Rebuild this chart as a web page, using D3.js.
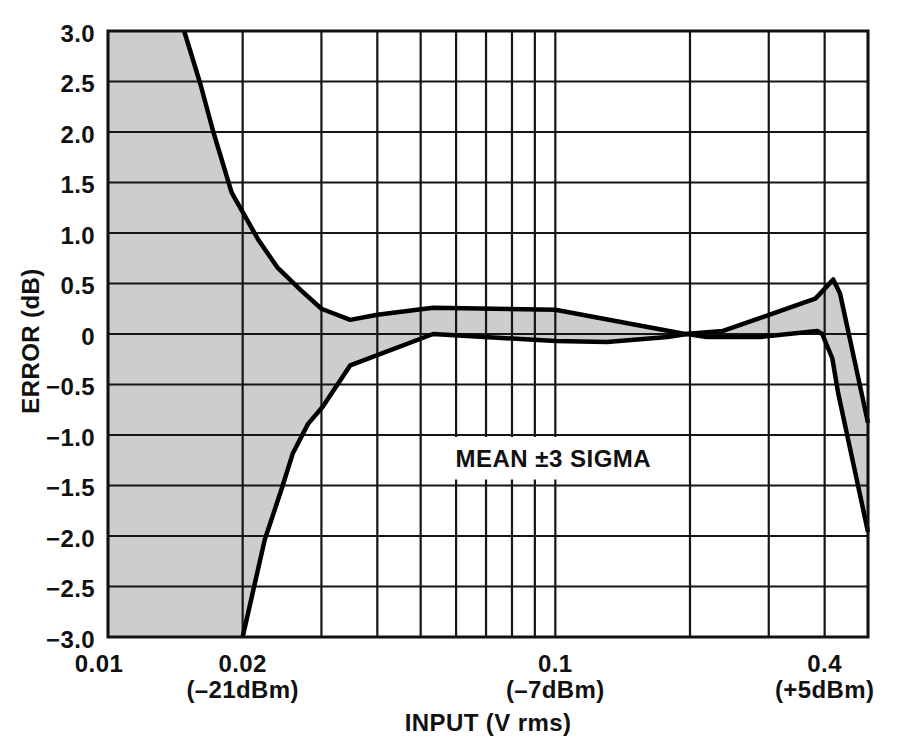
<!DOCTYPE html>
<html>
<head>
<meta charset="utf-8">
<script src="https://cdn.jsdelivr.net/npm/d3@7"></script>
<style>
body { margin: 0; background: #fff; }
svg text { font-family: "Liberation Sans", Arial, Helvetica, sans-serif; font-weight: bold; fill: #111; }
</style>
</head>
<body>
<div id="chart"></div>
<script>
// Error (dB) vs input (V rms), mean +/- 3 sigma band

// upper curve (mean + 3 sigma)
var upperX = [0.0148, 0.0161, 0.0172, 0.0189, 0.0217, 0.0239, 0.0269, 0.030, 0.0348, 0.040, 0.0533, 0.100, 0.195, 0.237, 0.381, 0.389, 0.418, 0.433, 0.500];
var upperY = [3.0, 2.47, 2.0, 1.40, 0.93, 0.66, 0.44, 0.25, 0.14, 0.19, 0.26, 0.24, 0.0, 0.03, 0.35, 0.39, 0.54, 0.40, -0.88];

// lower curve (mean - 3 sigma)
var lowerX = [0.020, 0.0224, 0.0245, 0.0259, 0.028, 0.0302, 0.0348, 0.040, 0.0533, 0.100, 0.1305, 0.178, 0.197, 0.218, 0.287, 0.385, 0.395, 0.416, 0.429, 0.500];
var lowerY = [-3.0, -2.04, -1.52, -1.18, -0.89, -0.72, -0.31, -0.21, 0.0, -0.07, -0.08, -0.03, 0.0, -0.03, -0.03, 0.03, 0.0, -0.24, -0.59, -1.96];

// grid and labels
var gridX = [0.01, 0.02, 0.03, 0.04, 0.05, 0.06, 0.07, 0.08, 0.09, 0.1, 0.2, 0.3, 0.4, 0.5];
var yTicks = [-3.0, -2.5, -2.0, -1.5, -1.0, -0.5, 0, 0.5, 1.0, 1.5, 2.0, 2.5, 3.0];
var xLabelValues = [0.01, 0.02, 0.1, 0.4];
var xLabelTop = ["0.01", "0.02", "0.1", "0.4"];
var xLabelBottom = ["", "(\u201321dBm)", "(\u20137dBm)", "(+5dBm)"];

var width = 900, height = 754;

var svg = d3.select('#chart').append('svg')
    .attr('width', width)
    .attr('height', height);

var x = d3.scaleLog()
    .domain([0.01, 0.5])
    .range([108, 868]);

var y = d3.scaleLinear()
    .domain([-3, 3])
    .range([637, 31]);

var upper = upperX.map((d, i) => [d, upperY[i]]);
var lower = lowerX.map((d, i) => [d, lowerY[i]]);

var line = d3.line()
    .x(d => x(d[0]))
    .y(d => y(d[1]));

// shaded band: top-left corner, upper curve, lower curve back, bottom-left corner
var band = [[x.domain()[0], y.domain()[1]]]
    .concat(upper)
    .concat(lower.slice().reverse())
    .concat([[x.domain()[0], y.domain()[0]]]);

svg.append('path')
    .attr('d', line(band) + 'Z')
    .attr('fill', '#cdcdcd')
    .attr('stroke', 'none');

// Grid
var grid = svg.append('g').attr('class', 'grid');

grid.selectAll('.vline')
    .data(gridX)
    .enter().append('line')
        .attr('x1', d => x(d))
        .attr('x2', d => x(d))
        .attr('y1', y(3))
        .attr('y2', y(-3))
        .attr('stroke', '#151515')
        .attr('stroke-width', 2.2);

grid.selectAll('.hline')
    .data(yTicks)
    .enter().append('line')
        .attr('x1', x(0.01))
        .attr('x2', x(0.5))
        .attr('y1', d => y(d))
        .attr('y2', d => y(d))
        .attr('stroke', '#151515')
        .attr('stroke-width', 2.2);

// Label with white box
var label = svg.append('text')
    .attr('x', x(0.1) - 2)
    .attr('y', y(-1.32))
    .attr('text-anchor', 'middle')
    .style('font-size', '24px')
    .style('letter-spacing', '0.5px')
    .text('MEAN \u00b13 SIGMA');

var bb = label.node().getBBox();
svg.insert('rect', 'text')
    .attr('x', bb.x - 9)
    .attr('y', y(-1.0) + 2)
    .attr('width', bb.width + 18)
    .attr('height', y(-1.5) - y(-1.0) - 8)
    .attr('fill', '#fff');

// Curves
svg.append('path')
    .attr('d', line(upper))
    .attr('fill', 'none')
    .attr('stroke', '#000')
    .attr('stroke-width', 4.5)
    .attr('stroke-linejoin', 'round');

svg.append('path')
    .attr('d', line(lower))
    .attr('fill', 'none')
    .attr('stroke', '#000')
    .attr('stroke-width', 4.5)
    .attr('stroke-linejoin', 'round');

// Frame
svg.append('rect')
    .attr('x', x(0.01))
    .attr('y', y(3))
    .attr('width', x(0.5) - x(0.01))
    .attr('height', y(-3) - y(3))
    .attr('fill', 'none')
    .attr('stroke', '#111')
    .attr('stroke-width', 3);

// Y tick labels
svg.selectAll('.ylab')
    .data(yTicks)
    .enter().append('text')
        .attr('x', 95)
        .attr('y', d => y(d) + 2)
        .attr('dy', '0.36em')
        .attr('text-anchor', 'end')
        .style('font-size', '24px')
        .style('letter-spacing', '0.4px')
        .text(d => d === 0 ? '0' : d3.format('.1f')(d).replace('-', '\u2013'));

// X tick labels
svg.selectAll('.xlab')
    .data(xLabelValues)
    .enter().append('text')
        .attr('x', (d, i) => x(d) - (i === 0 ? 9 : 0))
        .attr('y', 672)
        .attr('text-anchor', 'middle')
        .style('font-size', '24px')
        .style('letter-spacing', '0.4px')
        .text((d, i) => xLabelTop[i]);

svg.selectAll('.xlab2')
    .data(xLabelValues)
    .enter().append('text')
        .attr('x', d => x(d))
        .attr('y', 698)
        .attr('text-anchor', 'middle')
        .style('font-size', '24px')
        .style('letter-spacing', '0.4px')
        .text((d, i) => xLabelBottom[i]);

// Axis titles
svg.append('text')
    .attr('x', (x(0.01) + x(0.5)) / 2)
    .attr('y', 731)
    .attr('text-anchor', 'middle')
    .style('font-size', '24px')
    .style('letter-spacing', '0.4px')
    .text('INPUT (V rms)');

svg.append('text')
    .attr('transform', 'translate(39,341) rotate(-90)')
    .attr('text-anchor', 'middle')
    .style('font-size', '24px')
    .style('letter-spacing', '0.4px')
    .text('ERROR (dB)');
</script>
</body>
</html>
